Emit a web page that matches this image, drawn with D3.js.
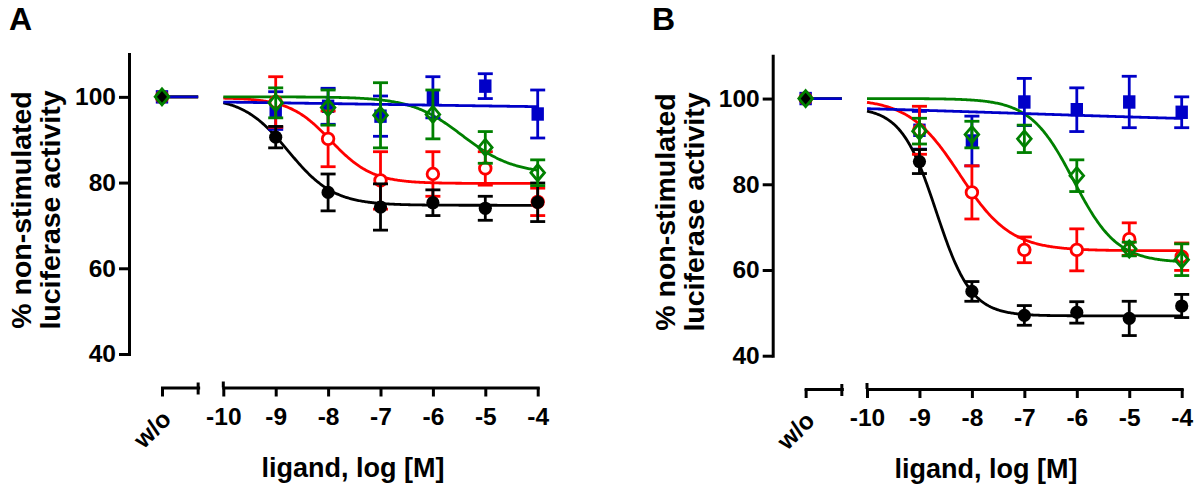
<!DOCTYPE html>
<html><head><meta charset="utf-8">
<script src="https://cdn.jsdelivr.net/npm/d3@7"></script>
<style>
body{margin:0;background:#fff;}
svg{display:block;font-family:"Liberation Sans",Arial,Helvetica,sans-serif;font-weight:bold;}
</style></head><body>
<svg id="chart" width="1200" height="487"></svg>
<script>
// ---------------- data ----------------
const logConc = [-9, -8, -7, -6, -5, -4];
const xTicks = [-10, -9, -8, -7, -6, -5, -4];
const yTicks = [40, 60, 80, 100];
const woLabel = "w/o";
const woValue = 100;
const panelLabels = ["A", "B"];
const xTitle = "ligand, log [M]";
const yTitleLines = ["% non-stimulated", "luciferase activity"];
const seriesKeys = ["filledCircle", "openCircle", "openDiamond", "filledSquare"];

// Panel A: mean ± error
const aFilledCircleMean = [90.6, 77.7, 74.3, 75.3, 74.0, 75.4];
const aFilledCircleErr  = [2.5, 4.3, 5.4, 3.0, 2.8, 4.5];
const aOpenCircleMean   = [98.8, 90.2, 80.5, 82.0, 83.3, 75.5];
const aOpenCircleErr    = [5.9, 6.5, 6.7, 5.2, 3.9, 3.2];
const aOpenDiamondMean  = [98.6, 97.5, 95.7, 95.9, 88.2, 82.3];
const aOpenDiamondErr   = [3.5, 4.1, 7.6, 5.7, 3.7, 3.0];
const aFilledSquareMean = [96.8, 97.8, 95.5, 99.9, 102.5, 96.0];
const aFilledSquareErr  = [4.4, 4.2, 4.7, 4.8, 2.9, 5.6];

// Panel B: mean ± error
const bFilledCircleMean = [85.3, 55.0, 49.4, 50.1, 48.7, 51.6];
const bFilledCircleErr  = [2.8, 2.3, 2.3, 2.5, 4.0, 2.7];
const bOpenCircleMean   = [92.6, 78.1, 64.7, 64.7, 67.2, 63.1];
const bOpenCircleErr    = [5.6, 6.2, 3.0, 4.9, 3.8, 3.2];
const bOpenDiamondMean  = [92.4, 91.6, 90.6, 82.0, 64.9, 62.4];
const bOpenDiamondErr   = [3.0, 3.1, 3.2, 3.7, 1.6, 3.7];
const bFilledSquareMean = [92.6, 90.1, 99.2, 97.4, 99.2, 96.8];
const bFilledSquareErr  = [4.4, 5.8, 5.5, 5.1, 6.0, 3.6];

// Fitted sigmoid parameters (order = seriesKeys)
const aFitTop     = [100.0, 99.8, 100.0, 100.25];
const aFitBottom  = [74.7, 79.8, 82.0, 96.25];
const aFitLogEC50 = [-8.76, -7.95, -5.44, -7.0];
const aFitHill    = [1.0, 1.1, 0.89, 0.08];

const bFitTop     = [98.0, 100.0, 100.0, 99.5];
const bFitBottom  = [49.3, 64.5, 61.7, 93.5];
const bFitLogEC50 = [-8.68, -8.23, -6.06, -7.0];
const bFitHill    = [1.3, 0.9, 1.05, 0.116];

// ---------------- styles ----------------
const colors = {filledCircle: "#000000", openCircle: "#ff0000", openDiamond: "#008000", filledSquare: "#0000c8"};
const curveOrder = ["filledCircle", "openCircle", "openDiamond", "filledSquare"];
const markerOrder = ["filledSquare", "openCircle", "filledCircle", "openDiamond"];
const FONT_TICK = 24.5, FONT_TITLE = 27, FONT_YTITLE = 28.5, FONT_LABEL = 32;
const SW = 2.8;

const panelData = [
  {
    means: {filledCircle: aFilledCircleMean, openCircle: aOpenCircleMean, openDiamond: aOpenDiamondMean, filledSquare: aFilledSquareMean},
    errs:  {filledCircle: aFilledCircleErr, openCircle: aOpenCircleErr, openDiamond: aOpenDiamondErr, filledSquare: aFilledSquareErr},
    fit: {top: aFitTop, bottom: aFitBottom, ec: aFitLogEC50, hill: aFitHill},
    layout: {xLeft: 223.3, xRight: 537.7, yBottom: 354, yTop: 54, axisX: 129, axisY: 387.5,
             labelX: 9, labelY: 30, titleX: 353, titleY: 477, yt1: 31, yt2: 60, ytMid: 210}
  },
  {
    means: {filledCircle: bFilledCircleMean, openCircle: bOpenCircleMean, openDiamond: bOpenDiamondMean, filledSquare: bFilledSquareMean},
    errs:  {filledCircle: bFilledCircleErr, openCircle: bOpenCircleErr, openDiamond: bOpenDiamondErr, filledSquare: bFilledSquareErr},
    fit: {top: bFitTop, bottom: bFitBottom, ec: bFitLogEC50, hill: bFitHill},
    layout: {xLeft: 867, xRight: 1181.7, yBottom: 355.7, yTop: 55.7, axisX: 772.7, axisY: 389,
             labelX: 652, labelY: 30, titleX: 986, titleY: 478, yt1: 675, yt2: 704, ytMid: 212}
  }
];

const svg = d3.select("#chart");

function styleAxis(sel, fontSize) {
  sel.attr("font-family", null).attr("font-size", null);
  sel.selectAll("path.domain").attr("stroke", "#000").attr("stroke-width", 3).attr("stroke-linecap", "square");
  sel.selectAll(".tick line").attr("stroke", "#000").attr("stroke-width", 3);
  sel.selectAll(".tick text").attr("fill", "#000").style("font-size", fontSize + "px").style("font-weight", "bold");
}

panelData.forEach((pd, pi) => {
  const L = pd.layout;
  const x = d3.scaleLinear().domain([-10, -4]).range([L.xLeft, L.xRight]);
  const y = d3.scaleLinear().domain([40, 110]).range([L.yBottom, L.yTop]);
  const woPos = -11.17, woEnd = -10.48;
  const g = svg.append("g");

  // panel label
  g.append("text").attr("x", L.labelX).attr("y", L.labelY).style("font-size", FONT_LABEL + "px").text(panelLabels[pi]);

  // y title
  yTitleLines.forEach((t, i) => {
    g.append("text")
      .attr("transform", `translate(${i === 0 ? L.yt1 : L.yt2},${L.ytMid}) rotate(-90)`)
      .attr("text-anchor", "middle").style("font-size", FONT_YTITLE + "px").text(t);
  });

  // y axis
  const ya = g.append("g").attr("transform", `translate(${L.axisX},0)`)
    .call(d3.axisLeft(y).tickValues(yTicks).tickSize(10).tickSizeOuter(0).tickPadding(3).tickFormat(d => String(d)));
  styleAxis(ya, FONT_TICK);

  // x axis main segment
  const xa = g.append("g").attr("transform", `translate(0,${L.axisY})`)
    .call(d3.axisBottom(x).tickValues(xTicks).tickSize(9).tickSizeOuter(0).tickPadding(11).tickFormat(d => String(d)));
  styleAxis(xa, FONT_TICK);
  xa.append("line").attr("x1", x(-10)).attr("x2", x(-10)).attr("y1", -6).attr("y2", 0)
    .attr("stroke", "#000").attr("stroke-width", 3);

  // x axis w/o segment
  const xw = d3.scaleLinear().domain([woPos, woEnd]).range([x(woPos), x(woEnd)]);
  const xwa = g.append("g").attr("transform", `translate(0,${L.axisY})`)
    .call(d3.axisBottom(xw).tickValues([woPos]).tickSize(9).tickSizeOuter(0).tickFormat(() => woLabel));
  styleAxis(xwa, FONT_TICK);
  xwa.selectAll(".tick text").attr("y", null).attr("dy", "0.35em").attr("text-anchor", "end")
    .attr("transform", "translate(4,27) rotate(-45)");
  xwa.append("line").attr("x1", x(woEnd)).attr("x2", x(woEnd)).attr("y1", -5).attr("y2", 7)
    .attr("stroke", "#000").attr("stroke-width", 3);

  // x title
  g.append("text").attr("x", L.titleX).attr("y", L.titleY).attr("text-anchor", "middle")
    .style("font-size", FONT_TITLE + "px").text(xTitle);

  // curves
  const samples = d3.range(-10, -3.999, 0.02);
  const line = d3.line().x(d => x(d[0])).y(d => y(d[1]));
  curveOrder.forEach(k => {
    const i = seriesKeys.indexOf(k);
    const top = pd.fit.top[i], bot = pd.fit.bottom[i], ec = pd.fit.ec[i], h = pd.fit.hill[i];
    const pts = samples.map(s => [s, bot + (top - bot) / (1 + Math.pow(10, (s - ec) * h))]);
    g.append("path").attr("d", line(pts)).attr("fill", "none").attr("stroke", colors[k]).attr("stroke-width", SW);
    g.append("line").attr("x1", x(woPos)).attr("x2", x(woEnd)).attr("y1", y(woValue)).attr("y2", y(woValue))
      .attr("stroke", colors[k]).attr("stroke-width", SW);
  });

  // markers + error bars
  function marker(sel, k, cx, cy) {
    const c = colors[k];
    if (k === "filledCircle") sel.append("circle").attr("cx", cx).attr("cy", cy).attr("r", 6.6).attr("fill", c);
    else if (k === "openCircle") sel.append("circle").attr("cx", cx).attr("cy", cy).attr("r", 5.8)
      .attr("fill", "#fff").attr("stroke", c).attr("stroke-width", SW);
    else if (k === "filledSquare") sel.append("rect").attr("x", cx - 6.2).attr("y", cy - 6.7).attr("width", 12.4).attr("height", 13.4).attr("fill", c);
    else sel.append("path").attr("d", `M${cx},${cy - 8}L${cx + 6.8},${cy}L${cx},${cy + 8}L${cx - 6.8},${cy}Z`)
      .attr("fill", "none").attr("stroke", c).attr("stroke-width", SW);
  }
  markerOrder.forEach(k => {
    const c = colors[k];
    const ms = pd.means[k], es = pd.errs[k];
    const sg = g.append("g");
    marker(sg, k, x(woPos), y(woValue));
    logConc.forEach((lc, j) => {
      const cx = x(lc), y1 = y(ms[j] + es[j]), y2 = y(ms[j] - es[j]);
      sg.append("line").attr("x1", cx).attr("x2", cx).attr("y1", y1).attr("y2", y2).attr("stroke", c).attr("stroke-width", SW);
      [y1, y2].forEach(yy => sg.append("line").attr("x1", cx - 7.5).attr("x2", cx + 7.5).attr("y1", yy).attr("y2", yy)
        .attr("stroke", c).attr("stroke-width", SW));
      marker(sg, k, cx, y(ms[j]));
    });
  });
});
</script>
</body></html>
